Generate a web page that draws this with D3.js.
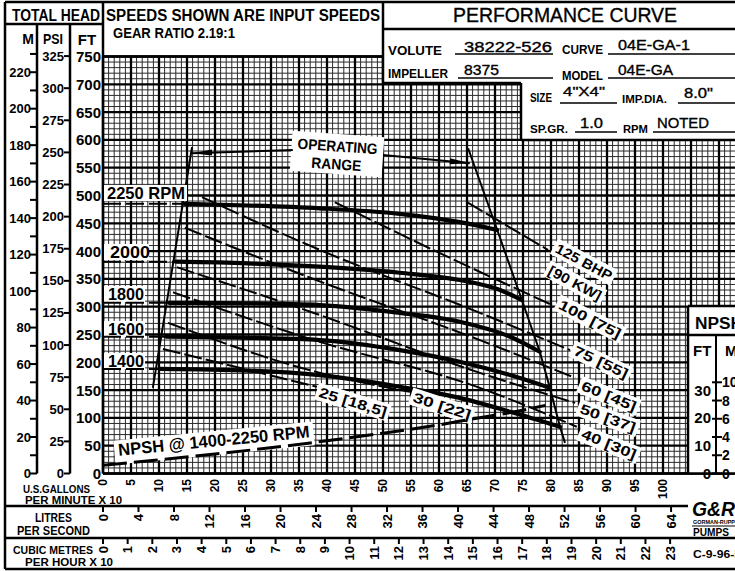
<!DOCTYPE html>
<html>
<head>
<meta charset="utf-8">
<script src="https://cdn.jsdelivr.net/npm/d3@7"></script>
<style>
  body { margin: 0; background: #fff; }
  svg { display: block; }
</style>
</head>
<body>
<div id="chart"></div>
<script>
// ---- data (flow in US gpm x 10, head in feet) ----
var gpmTicks = d3.range(0, 101, 5);
var litreTicks = d3.range(0, 65, 4);
var cubicTicks = d3.range(0, 24, 1);
var ftTicks = d3.range(0, 751, 50);
var psiTicks = d3.range(0, 326, 25);
var mTicks = d3.range(0, 231, 10);
var npshFtTicks = [0, 10, 20, 30];
var npshMTicks = [0, 2, 4, 6, 8, 10];

var speeds = ["2250 RPM", "2000", "1800", "1600", "1400"];
var head2250 = [[14.6, 485], [26, 482], [38.7, 477], [53, 467], [63.7, 452], [70.4, 438]];
var head2000 = [[13.0, 381], [26, 378], [38.7, 372], [53, 361], [63.7, 348], [70.9, 330], [74.8, 312]];
var head1800 = [[11.8, 307], [26, 306], [38.7, 303], [53, 289], [63.7, 273], [72.7, 246], [78.0, 219]];
var head1600 = [[11.3, 246], [26, 244], [38.7, 240], [53, 222], [63.7, 201], [72.7, 177], [79.8, 154]];
var head1400 = [[10.2, 188], [26, 185], [38.7, 177], [53, 156], [63.7, 136], [72.7, 111], [81.6, 84]];
var headCurves = [head2250, head2000, head1800, head1600, head1400];

// horsepower lines, BHP [KW]
var bhpNames = ["125 BHP", "100 [75]", "75 [55]", "60 [45]", "50 [37]", "40 [30]", "30 [22]", "25 [18,5]"];
var bhp125 = [[65, 488], [79.5, 402]];
var bhp100 = [[41.4, 488], [59.6, 399], [80.2, 303]];
var bhp75 = [[17.7, 497], [38.75, 402], [67.3, 289], [83.4, 222]];
var bhp60 = [[14.6, 442], [37, 352], [67.3, 240], [84.3, 172]];
var bhp50 = [[13.2, 371], [37, 291], [67.3, 181], [84.3, 127]];
var bhp40 = [[12.5, 326], [37, 242], [67.3, 154], [84.6, 84]];
var bhp30 = [[11.6, 271], [38.75, 181], [54.8, 147]];
var bhp25 = [[10.7, 224], [38.2, 156]];
var bhpCurves = [bhp125, bhp100, bhp75, bhp60, bhp50, bhp40, bhp30, bhp25];

// NPSH required (ft) - own scale, right hand box
var npshCurve = [[0, 3], [20, 7], [37, 11], [50, 14.5], [60, 17.5], [67, 20], [73, 22], [79, 24.5]];

// operating range limits
var opLeft = [[15.9, 587], [8.9, 154]];
var opRight = [[65.2, 585], [70.4, 438], [74.8, 312], [78.0, 219], [79.8, 154], [81.6, 84], [82.5, 55]];
var arrowLeft = [[33.9, 582], [15.9, 576]];
var arrowRight = [[50, 573], [65.5, 558]];

// ---- drawing ----
var W = 735, H = 571;
var svg = d3.select("#chart").append("svg")
    .attr("width", W).attr("height", H)
    .style("font-family", "'Liberation Sans', Arial, sans-serif");

var x = d3.scaleLinear().domain([0, 100]).range([103, 663]);
var y = d3.scaleLinear().domain([0, 750]).range([473.5, 56.5]);
var yN = d3.scaleLinear().domain([0, 30]).range([473.5, 390.1]);

function txt(g, px, py, s, size, opt) {
    opt = opt || {};
    var t = g.append("text").attr("x", px).attr("y", py).text(s)
        .attr("font-size", size)
        .attr("font-weight", opt.weight || "bold")
        .attr("text-anchor", opt.anchor || "start")
        .attr("fill", "#000");
    if (opt.weight == "normal") t.attr("stroke", "#000").attr("stroke-width", 0.35);
    if (opt.len) t.attr("textLength", opt.len).attr("lengthAdjust", "spacingAndGlyphs");
    if (opt.base) t.attr("dominant-baseline", opt.base);
    if (opt.rot != null) t.attr("transform", "rotate(" + opt.rot + "," + px + "," + py + ")");
    return t;
}

function rule(g, x1, y1, x2, y2, w) {
    return g.append("line").attr("x1", x1).attr("y1", y1).attr("x2", x2).attr("y2", y2)
        .attr("stroke", "#000").attr("stroke-width", w || 2.5);
}

/* graph paper: 10 gpm x 10 ft minor, 50 gpm x 50 ft major */
var grid = svg.append("g");
var uMax = Math.floor(x.invert(W + 2));
var us = d3.range(0, uMax + 1);
var fs = d3.range(0, 751, 10);
grid.selectAll(".vmin").data(us.filter(u => u % 5)).join("line")
    .attr("x1", d => x(d)).attr("x2", d => x(d)).attr("y1", y(0)).attr("y2", y(750))
    .attr("stroke", "#2a2a2a").attr("stroke-width", 1);
grid.selectAll(".hmin").data(fs.filter(f => f % 50)).join("line")
    .attr("x1", x(0)).attr("x2", W).attr("y1", d => y(d)).attr("y2", d => y(d))
    .attr("stroke", "#2a2a2a").attr("stroke-width", 1);
grid.selectAll(".vmaj").data(us.filter(u => u % 5 == 0)).join("line")
    .attr("x1", d => x(d)).attr("x2", d => x(d)).attr("y1", y(0)).attr("y2", y(750))
    .attr("stroke", "#000").attr("stroke-width", 2.3);
grid.selectAll(".hmaj").data(fs.filter(f => f % 50 == 0)).join("line")
    .attr("x1", x(0)).attr("x2", W).attr("y1", d => y(d)).attr("y2", d => y(d))
    .attr("stroke", "#000").attr("stroke-width", 2.3);

/* title blocks cover the top right of the paper */
var frame = svg.append("g");
frame.append("rect").attr("x", 383).attr("y", 0).attr("width", W - 383).attr("height", 83).attr("fill", "#fff");
frame.append("rect").attr("x", 521).attr("y", 83).attr("width", W - 521).attr("height", 57).attr("fill", "#fff");
frame.append("rect").attr("x", 688).attr("y", 306).attr("width", W - 688).attr("height", 168).attr("fill", "#fff");

rule(frame, 5, 2, W, 2);
rule(frame, 5, 2, 5, 569);
rule(frame, 5, 24, 103, 24);
rule(frame, 37, 24, 37, y(0));
rule(frame, 70, 24, 70, y(0));
rule(frame, 103, 2, 103, y(0));
rule(frame, 103, y(750), 383, y(750));
rule(frame, 383, 2, 383, 83);
rule(frame, 383, 29, W, 29);
rule(frame, 383, 83, 521, 83);
rule(frame, 521, 83, 521, 140);
rule(frame, 521, 140, W, 140);
rule(frame, 103, y(0), W, y(0));
rule(frame, 5, 506, 688, 506);
rule(frame, 5, 538, W, 538);
rule(frame, 5, 569, W, 569);
rule(frame, 688, 306, 688, y(0));
rule(frame, 688, 306, W, 306);
rule(frame, 688, 335, W, 335);
rule(frame, 716, 335, 716, y(0), 2);

/* header texts */
var head = svg.append("g");
txt(head, 12, 21, "TOTAL HEAD", 16, {len: 88});
txt(head, 106, 21, "SPEEDS SHOWN ARE INPUT SPEEDS", 16, {len: 274});
txt(head, 113, 38, "GEAR RATIO 2.19:1", 15, {len: 122});
txt(head, 28, 44, "M", 14, {anchor: "middle"});
txt(head, 53, 44, "PSI", 14, {anchor: "middle", len: 20});
txt(head, 87, 45, "FT", 15, {anchor: "middle"});

txt(head, 453, 22, "PERFORMANCE CURVE", 20, {len: 224, weight: "normal"});
txt(head, 388, 55, "VOLUTE", 13, {len: 54});
txt(head, 464, 52, "38222-526", 14, {len: 88, weight: "normal"});
rule(head, 455, 54, 553, 54, 1.5);
txt(head, 562, 54, "CURVE", 12, {len: 41});
txt(head, 618, 50, "04E-GA-1", 14, {len: 72, weight: "normal"});
rule(head, 608, 54, W, 54, 1.5);
txt(head, 388, 78, "IMPELLER", 13, {len: 60});
txt(head, 464, 75, "8375", 14, {len: 35, weight: "normal"});
rule(head, 458, 78, 553, 78, 1.5);
txt(head, 562, 80, "MODEL", 12, {len: 41});
txt(head, 618, 75, "04E-GA", 14, {len: 55, weight: "normal"});
rule(head, 608, 78, W, 78, 1.5);

txt(head, 530, 102, "SIZE", 12, {len: 22});
txt(head, 563, 96, "4\"X4\"", 13, {len: 42, weight: "normal"});
rule(head, 560, 103, 617, 103, 1.5);
txt(head, 622, 103, "IMP.DIA.", 11, {len: 45});
txt(head, 684, 98, "8.0\"", 14, {len: 29, weight: "normal"});
rule(head, 678, 103, W, 103, 1.5);
txt(head, 530, 133, "SP.GR.", 11, {len: 38});
txt(head, 580, 128, "1.0", 14, {len: 23, weight: "normal"});
rule(head, 575, 132, 617, 132, 1.5);
txt(head, 623, 133, "RPM", 11, {len: 25});
txt(head, 657, 128, "NOTED", 14, {len: 52, weight: "normal"});
rule(head, 653, 132, W, 132, 1.5);

/* left head scales */
var ax = svg.append("g");
var mToFt = 3.2808, psiToFt = 2.31;
mTicks.forEach(function(m) {
    var yy = y(m * mToFt);
    rule(ax, 30, yy, 37, yy, 2);
    if (m % 20 == 0) txt(ax, 31, yy, m, 13, {anchor: "end", base: "central"});
});
psiTicks.forEach(function(p) {
    var yy = y(p * psiToFt);
    rule(ax, 64, yy, 70, yy, 2);
    txt(ax, 64, yy, p, 13, {anchor: "end", base: "central"});
});
ftTicks.forEach(function(f) {
    txt(ax, 101, y(f), f, 15, {anchor: "end", base: "central"});
});

/* bottom flow scales */
gpmTicks.forEach(function(v) {
    txt(ax, x(v), 479, v, 12, {anchor: "end", base: "central", rot: -90});
});
litreTicks.forEach(function(v) {
    var xx = x(v * 1.585);
    rule(ax, xx, 506, xx, 512, 2);
    txt(ax, xx, 514, v, 13, {anchor: "end", base: "central", rot: -90});
});
cubicTicks.forEach(function(v) {
    var xx = x(v * 4.403);
    rule(ax, xx, 538, xx, 544, 2);
    txt(ax, xx, 546, v, 13, {anchor: "end", base: "central", rot: -90});
});
txt(ax, 23, 493, "U.S.GALLONS", 11, {len: 67});
txt(ax, 25, 504, "PER MINUTE X 10", 11, {len: 97});
txt(ax, 35, 522, "LITRES", 12, {len: 37});
txt(ax, 17, 535, "PER SECOND", 12, {len: 73});
txt(ax, 13, 554, "CUBIC METRES", 11, {len: 80});
txt(ax, 25, 566, "PER HOUR X 10", 11, {len: 88});

/* NPSH box scale */
txt(ax, 695, 329, "NPSH", 16, {len: 48});
txt(ax, 693, 356, "FT", 15);
txt(ax, 725, 356, "M", 15);
npshFtTicks.forEach(function(f) {
    txt(ax, 711, yN(f), f, 15, {anchor: "end", base: "central"});
});
rule(ax, 716, yN(10 * mToFt), 716, y(0), 2);
npshMTicks.forEach(function(m) {
    var yy = yN(m * mToFt);
    rule(ax, 712, yy, 722, yy, 2);
    txt(ax, 722, yy, m, 14, {base: "central"});
});

/* logo + drawing number */
txt(ax, 692, 516, "G&R", 20, {len: 43}).attr("font-style", "italic");
txt(ax, 693, 524, "GORMAN-RUPP", 5, {len: 42});
rule(ax, 692, 526, W, 526, 1);
txt(ax, 693, 536, "PUMPS", 11, {len: 36});
txt(ax, 693, 558, "C-9-96-R", 11, {len: 50});

/* curves */
var line = d3.line().x(d => x(d[0])).y(d => y(d[1])).curve(d3.curveMonotoneX);
var lineStraight = d3.line().x(d => x(d[0])).y(d => y(d[1]));
var lineN = d3.line().x(d => x(d[0])).y(d => yN(d[1])).curve(d3.curveMonotoneX);
var plot = svg.append("g").attr("fill", "none").attr("stroke", "#000");

plot.selectAll(".bhp").data(bhpCurves).join("path")
    .attr("d", line).attr("stroke-width", 2).attr("stroke-dasharray", "18,4");

plot.selectAll(".head").data(headCurves).join("path")
    .attr("d", line).attr("stroke-width", 4.2).attr("stroke-linecap", "round");

plot.append("path").attr("d", lineStraight(opLeft)).attr("stroke-width", 2);
plot.append("path").attr("d", lineStraight(opRight)).attr("stroke-width", 2);

function arrow(g, pts) {
    var x1 = x(pts[0][0]), y1 = y(pts[0][1]), x2 = x(pts[1][0]), y2 = y(pts[1][1]);
    rule(g, x1, y1, x2, y2, 2);
    var a = Math.atan2(y2 - y1, x2 - x1), L = 20, w = 3;
    var bx = x2 - L * Math.cos(a), by = y2 - L * Math.sin(a);
    g.append("polygon").attr("fill", "#000").attr("stroke", "none")
        .attr("points", [[x2, y2], [bx - w * Math.sin(a), by + w * Math.cos(a)],
                         [bx + w * Math.sin(a), by - w * Math.cos(a)]].map(p => p.join(",")).join(" "));
}

/* labels with white backing */
var lab = svg.append("g");
function tag(cx, cy, ang, s, size, len) {
    var g = lab.append("g").attr("transform", "translate(" + cx + "," + cy + ") rotate(" + ang + ")");
    g.append("rect").attr("x", -len / 2 - 3).attr("y", -size * 0.62).attr("width", len + 6)
        .attr("height", size * 1.24).attr("fill", "#fff");
    txt(g, 0, 0, s, size, {anchor: "middle", len: len, base: "central"});
}

// operating range note
var op = lab.append("g").attr("transform", "translate(337,155) rotate(4)");
op.append("rect").attr("x", -46).attr("y", -21).attr("width", 92).attr("height", 40).attr("fill", "#fff");
txt(op, 0, -9, "OPERATING", 15, {anchor: "middle", len: 80, base: "central"});
txt(op, 0, 9, "RANGE", 15, {anchor: "middle", len: 50, base: "central"});
arrow(lab, arrowLeft);
arrow(lab, arrowRight);

// speed labels + dashed shut-off extensions
var rpmLayout = [[107, 199, 78], [110, 258, 40], [108, 300, 36], [108, 335, 36], [108, 367, 36]];
headCurves.forEach(function(c, i) {
    var L = rpmLayout[i];
    lab.append("rect").attr("x", 104).attr("y", L[1] - 14).attr("width", L[2] + 5).attr("height", 16).attr("fill", "#fff");
    lab.append("line").attr("x1", x(0)).attr("x2", x(c[0][0])).attr("y1", y(c[0][1])).attr("y2", y(c[0][1]))
        .attr("stroke", "#000").attr("stroke-width", 2).attr("stroke-dasharray", "18,5");
    txt(lab, L[0], L[1], speeds[i], 17, {len: L[2]});
});

// horsepower tags
var bhpLayout = [[584, 262, 28, 62], [590, 319, 27, 68], [601, 362, 25, 58], [609, 396, 22, 58],
                 [608, 418, 20, 58], [609, 444, 22, 58], [442, 406, 18, 60], [353, 402, 17, 70]];
bhpNames.forEach(function(s, i) {
    var L = bhpLayout[i];
    tag(L[0], L[1], L[2], s, 14, L[3]);
});
tag(575, 283, 28, "[90 KW]", 14, 58);

// NPSH curve and its tag (text sits just above the dashed line)
var ng = lab.append("g").attr("transform", "translate(214,442) rotate(-5.5)");
ng.append("rect").attr("x", -100).attr("y", -11).attr("width", 200).attr("height", 24).attr("fill", "#fff");
lab.append("path").attr("d", lineN(npshCurve)).attr("fill", "none").attr("stroke", "#000")
    .attr("stroke-width", 3).attr("stroke-dasharray", "24,7");
txt(ng, 0, -1, "NPSH @ 1400-2250 RPM", 17, {anchor: "middle", len: 192, base: "central"});
</script>
</body>
</html>
